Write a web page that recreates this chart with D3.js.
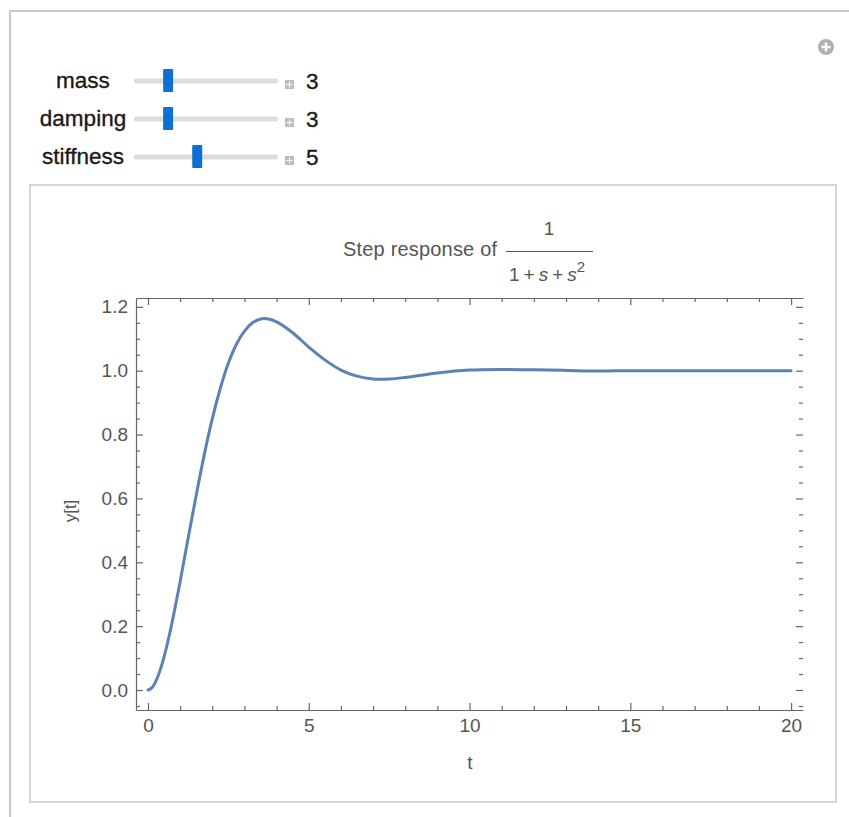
<!DOCTYPE html>
<html>
<head>
<meta charset="utf-8">
<script src="https://cdn.jsdelivr.net/npm/d3@7"></script>
<style>
  html, body { margin: 0; padding: 0; background: #fff; }
  svg { display: block; font-family: "Liberation Sans", Arial, sans-serif; }
</style>
</head>
<body>
<svg id="chart" width="849" height="817"></svg>
<script>
// ---- data ----
const sliderLabels = ["mass", "damping", "stiffness"];
const sliderValues = [3, 3, 5];
const sliderDomain = [1, 10];

const tValues = [0, 0.125, 0.25, 0.375, 0.5, 0.625, 0.75, 1, 1.25, 1.5, 1.75, 2, 2.25, 2.5, 2.75, 3, 3.25, 3.5, 3.75, 4, 4.5, 5, 5.5, 6, 6.5, 7, 7.5, 8, 8.5, 9, 10, 11, 12, 13, 14, 15, 16, 17, 18, 19, 20];
const yValues = [0, 0.0075, 0.029, 0.0615, 0.104, 0.155, 0.212, 0.340, 0.477, 0.610, 0.737, 0.850, 0.945, 1.024, 1.083, 1.124, 1.150, 1.162, 1.162, 1.153, 1.119, 1.074, 1.034, 1.002, 0.983, 0.974, 0.974, 0.979, 0.986, 0.993, 1.002, 1.004, 1.003, 1.001, 0.999, 1.000, 1.000, 1.000, 1.000, 1.000, 1.000];

const xMajorTicks = [0, 5, 10, 15, 20];
const xMinorTicks = [1, 2, 3, 4, 6, 7, 8, 9, 11, 12, 13, 14, 16, 17, 18, 19];
const yMajorTicks = [0, 0.2, 0.4, 0.6, 0.8, 1.0, 1.2];
const yMinorTicks = [-0.05, 0.05, 0.1, 0.15, 0.25, 0.3, 0.35, 0.45, 0.5, 0.55, 0.65, 0.7, 0.75, 0.85, 0.9, 0.95, 1.05, 1.1, 1.15];

const titleText = "Step response of";
const xLabel = "t";
const yLabel = "y[t]";

// ---- drawing ----
const svg = d3.select("#chart");
const ink = "#666";

// outer frame
svg.append("path").attr("d", "M10,817 V11 H849").attr("fill", "none").attr("stroke", "#c8c8c8").attr("stroke-width", 2);
// inner panel
svg.append("rect").attr("x", 30).attr("y", 185).attr("width", 806).attr("height", 617)
  .attr("fill", "#fff").attr("stroke", "#d6d6d6").attr("stroke-width", 2);

// top-right circle plus icon
const icon = svg.append("g").attr("transform", "translate(826,47)");
icon.append("circle").attr("r", 8).attr("fill", "#b0b0b0");
icon.append("path").attr("d", "M-4.5,0H4.5M0,-4.5V4.5").attr("stroke", "#fff").attr("stroke-width", 2.4);

// sliders
const sx = d3.scaleLinear().domain(sliderDomain).range([139, 270]);
const rowY = d3.scalePoint().domain(sliderLabels).range([81, 157]);
const rows = svg.append("g").selectAll("g").data(sliderLabels).join("g")
  .attr("transform", d => `translate(0,${rowY(d)})`);
rows.append("text").attr("x", 83).attr("y", 7).attr("text-anchor", "middle")
  .attr("font-size", 22.5).attr("fill", "#1a1a1a").attr("stroke", "#1a1a1a").attr("stroke-width", 0.35)
  .text(d => d);
rows.append("rect").attr("x", 134).attr("y", -2.5).attr("width", 144).attr("height", 5).attr("rx", 2)
  .attr("fill", "#dcdcdc");
rows.append("rect").attr("x", (d, i) => sx(sliderValues[i]) - 5).attr("y", -12).attr("width", 10).attr("height", 23)
  .attr("rx", 1).attr("fill", "#0f70d2");
rows.append("rect").attr("x", 285).attr("y", -1).attr("width", 9).attr("height", 9).attr("fill", "#bdbdbd");
rows.append("path").attr("d", "M286.5,3.5H292.5M289.5,0.5V6.5").attr("stroke", "#fff").attr("stroke-width", 1);
rows.append("text").attr("x", 306).attr("y", 8).attr("font-size", 22.5).attr("fill", "#1a1a1a")
  .attr("stroke", "#1a1a1a").attr("stroke-width", 0.35)
  .text((d, i) => sliderValues[i]);

// title
const tg = svg.append("g").attr("fill", "#555");
tg.append("text").attr("x", 343).attr("y", 256).attr("font-size", 20).attr("textLength", 154).text(titleText);
tg.append("text").attr("x", 549).attr("y", 235).attr("text-anchor", "middle").attr("font-size", 19).text("1");
tg.append("line").attr("x1", 506).attr("x2", 593).attr("y1", 251.5).attr("y2", 251.5).attr("stroke", "#555").attr("stroke-width", 1.2);
const den = tg.append("text").attr("x", 509).attr("y", 281).attr("font-size", 19);
den.append("tspan").text("1");
den.append("tspan").attr("dx", 4).text("+");
den.append("tspan").attr("dx", 4).attr("font-style", "italic").text("s");
den.append("tspan").attr("dx", 4).text("+");
den.append("tspan").attr("dx", 4).attr("font-style", "italic").text("s");
den.append("tspan").attr("font-size", 15).attr("dy", -9).text("2");

// scales
const x = d3.scaleLinear().domain([-0.373, 20.37]).range([136, 803]);
const y = d3.scaleLinear().domain([-0.0626, 1.2277]).range([710, 298]);

function styleAxis(g) {
  g.selectAll("path.domain").attr("stroke", ink).attr("stroke-width", 1.2);
  g.selectAll(".tick line").attr("stroke", ink).attr("stroke-width", 1.2);
  g.selectAll(".tick text").attr("fill", "#555").attr("font-size", 19).attr("font-family", "Liberation Sans, Arial, sans-serif");
}

// left axis
svg.append("g").attr("transform", "translate(136,0)")
  .call(d3.axisLeft(y).tickValues(yMajorTicks).tickSize(-7).tickSizeOuter(0).tickPadding(8).tickFormat(d3.format(".1f")))
  .call(styleAxis);
svg.append("g").attr("transform", "translate(136,0)")
  .call(d3.axisLeft(y).tickValues(yMinorTicks).tickSize(-4).tickFormat(""))
  .call(g => g.select(".domain").remove()).call(styleAxis);
// right ticks
svg.append("g").attr("transform", "translate(803,0)")
  .call(d3.axisRight(y).tickValues(yMajorTicks).tickSize(-7).tickFormat(""))
  .call(g => g.select(".domain").remove()).call(styleAxis);
svg.append("g").attr("transform", "translate(803,0)")
  .call(d3.axisRight(y).tickValues(yMinorTicks).tickSize(-4).tickFormat(""))
  .call(g => g.select(".domain").remove()).call(styleAxis);
// bottom axis
svg.append("g").attr("transform", "translate(0,710)")
  .call(d3.axisBottom(x).tickValues(xMajorTicks).tickSize(-7).tickSizeOuter(0).tickPadding(9))
  .call(styleAxis);
svg.append("g").attr("transform", "translate(0,710)")
  .call(d3.axisBottom(x).tickValues(xMinorTicks).tickSize(-4).tickFormat(""))
  .call(g => g.select(".domain").remove()).call(styleAxis);
// top axis
svg.append("g").attr("transform", "translate(0,298)")
  .call(d3.axisTop(x).tickValues(xMajorTicks).tickSize(-7).tickSizeOuter(0).tickFormat(""))
  .call(styleAxis);
svg.append("g").attr("transform", "translate(0,298)")
  .call(d3.axisTop(x).tickValues(xMinorTicks).tickSize(-4).tickFormat(""))
  .call(g => g.select(".domain").remove()).call(styleAxis);

// axis labels
svg.append("text").attr("x", 470).attr("y", 769).attr("text-anchor", "middle")
  .attr("font-size", 19).attr("fill", "#555").text(xLabel);
svg.append("text").attr("transform", "translate(76,511) rotate(-90)").attr("text-anchor", "middle")
  .attr("font-size", 17).attr("fill", "#555").text(yLabel);

// curve
const pts = tValues.map((t, i) => [t, yValues[i]]);
svg.append("path").datum(pts)
  .attr("fill", "none").attr("stroke", "#5e81b5").attr("stroke-width", 3)
  .attr("stroke-linejoin", "round").attr("stroke-linecap", "round")
  .attr("d", d3.line().x(d => x(d[0])).y(d => y(d[1])).curve(d3.curveCatmullRom.alpha(0.5)));
</script>
</body>
</html>
